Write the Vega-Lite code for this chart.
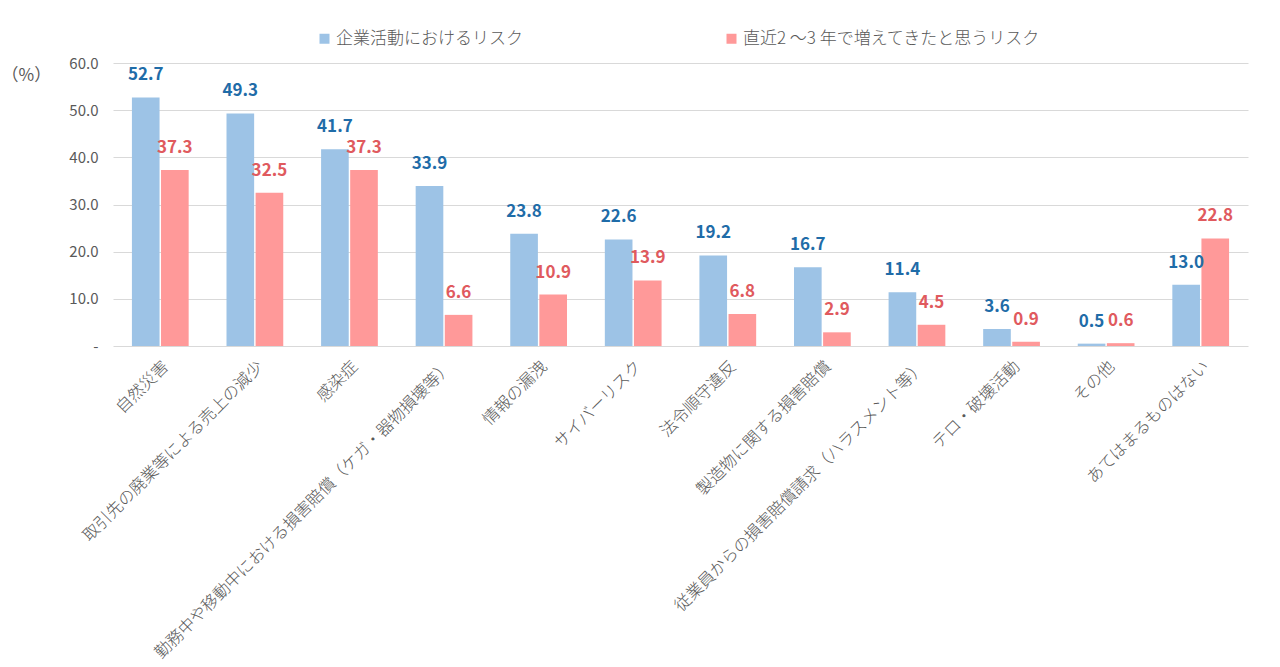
{
  "$schema": "https://vega.github.io/schema/vega-lite/v6.json",
  "autosize": {"type": "none"},
  "padding": {"left": 113, "top": 63, "right": 32, "bottom": 321},
  "width": 1135,
  "height": 283,
  "background": "white",
  "config": {
    "font": "Noto Sans CJK JP",
    "view": {"stroke": null}
  },
  "data": {
    "values": [
      {"category": "自然災害", "series": "企業活動におけるリスク", "value": 52.7},
      {"category": "自然災害", "series": "直近2 ～3 年で増えてきたと思うリスク", "value": 37.3},
      {"category": "取引先の廃業等による売上の減少", "series": "企業活動におけるリスク", "value": 49.3},
      {"category": "取引先の廃業等による売上の減少", "series": "直近2 ～3 年で増えてきたと思うリスク", "value": 32.5},
      {"category": "感染症", "series": "企業活動におけるリスク", "value": 41.7},
      {"category": "感染症", "series": "直近2 ～3 年で増えてきたと思うリスク", "value": 37.3},
      {"category": "勤務中や移動中における損害賠償（ケガ・器物損壊等）", "series": "企業活動におけるリスク", "value": 33.9},
      {"category": "勤務中や移動中における損害賠償（ケガ・器物損壊等）", "series": "直近2 ～3 年で増えてきたと思うリスク", "value": 6.6},
      {"category": "情報の漏洩", "series": "企業活動におけるリスク", "value": 23.8},
      {"category": "情報の漏洩", "series": "直近2 ～3 年で増えてきたと思うリスク", "value": 10.9},
      {"category": "サイバーリスク", "series": "企業活動におけるリスク", "value": 22.6},
      {"category": "サイバーリスク", "series": "直近2 ～3 年で増えてきたと思うリスク", "value": 13.9},
      {"category": "法令順守違反", "series": "企業活動におけるリスク", "value": 19.2},
      {"category": "法令順守違反", "series": "直近2 ～3 年で増えてきたと思うリスク", "value": 6.8},
      {"category": "製造物に関する損害賠償", "series": "企業活動におけるリスク", "value": 16.7},
      {"category": "製造物に関する損害賠償", "series": "直近2 ～3 年で増えてきたと思うリスク", "value": 2.9},
      {"category": "従業員からの損害賠償請求（ハラスメント等）", "series": "企業活動におけるリスク", "value": 11.4},
      {"category": "従業員からの損害賠償請求（ハラスメント等）", "series": "直近2 ～3 年で増えてきたと思うリスク", "value": 4.5},
      {"category": "テロ・破壊活動", "series": "企業活動におけるリスク", "value": 3.6},
      {"category": "テロ・破壊活動", "series": "直近2 ～3 年で増えてきたと思うリスク", "value": 0.9},
      {"category": "その他", "series": "企業活動におけるリスク", "value": 0.5},
      {"category": "その他", "series": "直近2 ～3 年で増えてきたと思うリスク", "value": 0.6},
      {"category": "あてはまるものはない", "series": "企業活動におけるリスク", "value": 13.0},
      {"category": "あてはまるものはない", "series": "直近2 ～3 年で増えてきたと思うリスク", "value": 22.8}
    ]
  },
  "encoding": {
    "x": {
      "field": "category",
      "type": "nominal",
      "sort": null,
      "scale": {"paddingInner": 0.4, "paddingOuter": 0.2},
      "axis": {
        "title": null,
        "labelAngle": -45,
        "labelAlign": "right",
        "labelBaseline": "top",
        "labelPadding": 12,
        "labelFontSize": 16.5,
        "labelFontWeight": 300,
        "labelColor": "#595959",
        "labelLimit": 0,
        "domain": false,
        "ticks": false
      }
    },
    "xOffset": {
      "field": "series",
      "type": "nominal",
      "sort": ["企業活動におけるリスク", "直近2 ～3 年で増えてきたと思うリスク"],
      "scale": {"paddingInner": 0.05}
    },
    "y": {
      "field": "value",
      "type": "quantitative",
      "scale": {"domain": [0, 60], "nice": false},
      "axis": {
        "values": [0, 10, 20, 30, 40, 50, 60],
        "labelExpr": "datum.value == 0 ? '-' : format(datum.value, '.1f')",
        "labelFontSize": 15,
        "labelColor": "#595959",
        "labelPadding": 15,
        "domain": false,
        "ticks": false,
        "gridColor": "#d9d9d9",
        "title": "（%）",
        "titleAngle": 0,
        "titleX": -112,
        "titleY": 12,
        "titleAlign": "left",
        "titleBaseline": "middle",
        "titleFontSize": 17,
        "titleFontWeight": "normal",
        "titleColor": "#595959"
      }
    }
  },
  "layer": [
    {
      "mark": {"type": "bar"},
      "encoding": {
        "color": {
          "field": "series",
          "type": "nominal",
          "scale": {
            "domain": ["企業活動におけるリスク", "直近2 ～3 年で増えてきたと思うリスク"],
            "range": ["#9DC3E6", "#FF9999"]
          },
          "legend": {
            "title": null,
            "orient": "none",
            "direction": "horizontal",
            "legendX": 203,
            "legendY": -33,
            "symbolType": "square",
            "symbolSize": 100,
            "symbolStrokeWidth": 0,
            "labelFontSize": 17,
            "labelFontWeight": 300,
            "labelColor": "#595959",
            "labelOffset": 3,
            "columnPadding": 200,
            "labelLimit": 0,
            "padding": 0
          }
        }
      }
    },
    {
      "mark": {"type": "text", "baseline": "bottom", "dy": -13, "fontSize": 17, "fontWeight": "bold"},
      "encoding": {
        "text": {"field": "value", "type": "quantitative", "format": ".1f"},
        "color": {
          "field": "series",
          "type": "nominal",
          "scale": {
            "domain": ["企業活動におけるリスク", "直近2 ～3 年で増えてきたと思うリスク"],
            "range": ["#1F6CA8", "#E05A5E"]
          },
          "legend": null
        }
      }
    }
  ],
  "resolve": {"scale": {"color": "independent"}}
}
